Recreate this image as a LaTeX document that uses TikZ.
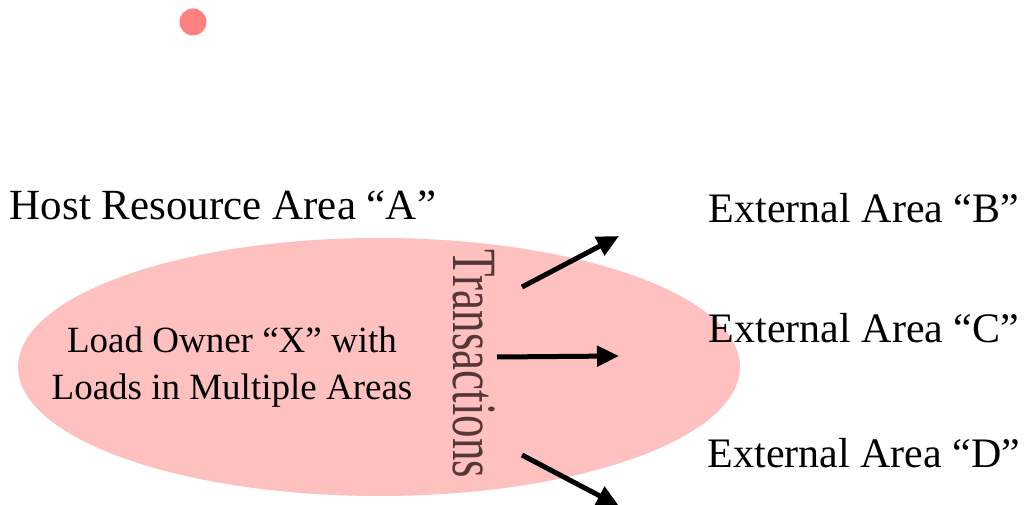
\documentclass[tikz,border=0pt]{standalone}
\usepackage{fontspec}
\setmainfont{Liberation Serif}
\usetikzlibrary{arrows.meta,shapes.geometric}
\definecolor{areapink}{RGB}{255,192,192}
\definecolor{dotred}{RGB}{255,128,128}
\definecolor{wordgray}{RGB}{85,55,55}
\tikzset{
  areabox/.style={ellipse,fill=areapink,draw=none,inner sep=0pt,minimum width=722pt,minimum height=258pt},
  arealabel/.style={font=\fontsize{42}{48}\selectfont,inner sep=0pt},
  ownerlabel/.style={font=\fontsize{37}{47}\selectfont,align=center,inner sep=0pt},
  wordart/.style={font=\fontsize{45}{50}\selectfont,rotate=-90,yscale=1.4,text=wordgray,inner sep=0pt},
  transarr/.style={-{Triangle[length=22pt,width=20pt]},line width=5pt}
}

\begin{document}
\begin{tikzpicture}[x=1pt,y=1pt]
  \useasboundingbox (0,0) rectangle (1026,504);
  \clip (0,0) rectangle (1026,504);

  \node[circle,fill=dotred,inner sep=0pt,minimum size=27pt] (dot) at (193,482) {};

  \node[areabox] (host) at (379,137) {};
  \node[arealabel,font=\fontsize{43}{48}\selectfont] (hostname) at (223,299) {Host Resource Area “A”};
  \node[ownerlabel] (owner) at (232,137) {Load Owner “X” with\\Loads in Multiple Areas};
  \node[wordart] (trans) at (474,140) {Transactions};

  \node[arealabel] (extb) at (864,296) {External Area “B”};
  \node[arealabel] (extc) at (864,176) {External Area “C”};
  \node[arealabel] (extd) at (864,51) {External Area “D”};

  \coordinate (fromb) at (522,217);
  \coordinate (tob) at (619,268);
  \coordinate (fromc) at (497,147);
  \coordinate (toc) at (619,148);
  \coordinate (fromd) at (522,49);
  \coordinate (tod) at (619,-2);
  \draw[transarr] (fromb) -- (tob);
  \draw[transarr] (fromc) -- (toc);
  \draw[transarr] (fromd) -- (tod);
\end{tikzpicture}
\end{document}
